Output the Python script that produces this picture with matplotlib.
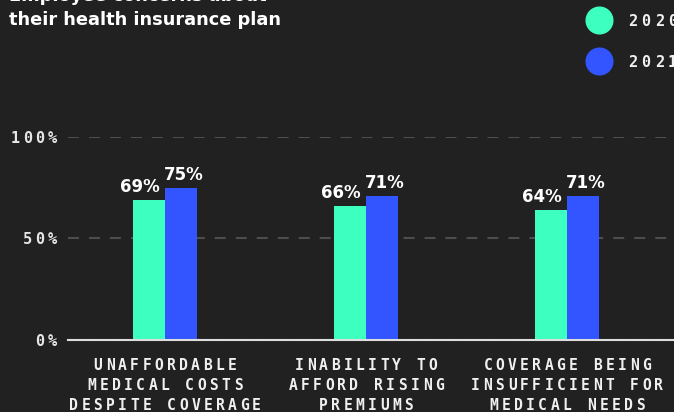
import matplotlib.pyplot as plt
import numpy as np

plt.rcParams['lines.scale_dashes'] = False

# data
categories = ["UNAFFORDABLE\nMEDICAL COSTS\nDESPITE COVERAGE",
              "INABILITY TO\nAFFORD RISING\nPREMIUMS",
              "COVERAGE BEING\nINSUFFICIENT FOR\nMEDICAL NEEDS"]
values_2020 = [69, 66, 64]
values_2021 = [75, 71, 71]
years = ["2020", "2021"]
y_ticks = [0, 50, 100]
tick_labels = ["0%", "50%", "100%"]

BG = "#212121"
GREEN = "#3dffc0"
BLUE = "#3355ff"
TEXT = "#f0f0f0"
DPI = 100
MONO = "DejaVu Sans Mono"
SANS = "DejaVu Sans"


def spaced(ax, x, y, text, transform, ha="center", dx=0, dy=0, size=10.5, pitch=12.2, color=TEXT):
    # monospace text with extra letter spacing, drawn one char at a time
    glyph = 0.602 * size * DPI / 72
    width = (len(text) - 1) * pitch + glyph
    start = {"center": -width / 2, "right": -width, "left": 0}[ha]
    for i, ch in enumerate(text):
        if ch == " ":
            continue
        cx = start + i * pitch + glyph / 2
        ax.annotate(ch, (x, y), xycoords=transform, xytext=(dx + cx, dy),
                    textcoords="offset pixels", ha="center", va="baseline",
                    fontsize=size, family=MONO, fontweight="bold", color=color)


fig = plt.figure(figsize=(6.74, 4.12), dpi=DPI, facecolor=BG)
ax = fig.add_axes([68 / 674, 72 / 412, 606 / 674, 203.3 / 412])
ax.set_facecolor(BG)

x = np.arange(len(categories))
w = 0.159
bars1 = ax.bar(x - w / 2, values_2020, w, color=GREEN)
bars2 = ax.bar(x + w / 2, values_2021, w, color=BLUE)

ax.set_ylim(0, 100)
ax.set_xlim(-0.4826, 2.532)

for s in ["top", "right", "left"]:
    ax.spines[s].set_visible(False)
ax.spines["bottom"].set_color("#dddddd")
ax.spines["bottom"].set_linewidth(1.5)
ax.set_xticks([])
ax.set_yticks(y_ticks)
ax.tick_params(axis="y", length=0, labelleft=False)
ax.grid(axis="y", color="#4d4d4d", linewidth=1.5, linestyle=(0, (7.9, 7.2)))
ax.set_axisbelow(True)

# y tick labels
for v, lab in zip(y_ticks, tick_labels):
    spaced(ax, 0, v, lab, ax.get_yaxis_transform(), ha="right", dx=-11, dy=-6,
           size=11, pitch=12.5, color="#e6e6e6")

# category labels
for xi, cat in zip(x, categories):
    for j, line in enumerate(cat.split("\n")):
        spaced(ax, xi, 0, line, ax.get_xaxis_transform(), ha="center", dy=-30.5 - 19.5 * j)

# value labels
for b, v in zip(bars1, values_2020):
    ax.annotate(f"{v}%", (b.get_x() + b.get_width(), v), xytext=(-5, 8),
                textcoords="offset pixels", ha="right", va="baseline",
                fontsize=12, fontweight="bold", family=SANS, color="white")
for b, v in zip(bars2, values_2021):
    ax.annotate(f"{v}%", (b.get_x(), v), xytext=(-1, 8),
                textcoords="offset pixels", ha="left", va="baseline",
                fontsize=12, fontweight="bold", family=SANS, color="white")

# legend
for i, (yr, col) in enumerate(zip(years, [GREEN, BLUE])):
    yc = 1 - (20 + 41 * i) / 412
    ax.plot([599.3 / 674], [yc], "o", ms=19.2, color=col, transform=fig.transFigure, clip_on=False)
    spaced(ax, 628 / 674, yc, yr, fig.transFigure, ha="left", dy=-6, size=11, pitch=13.3)

# title
fig.text(9 / 674, 1 - 1 / 412, "Employee concerns about", fontsize=12.8, fontweight="bold",
         family=SANS, color="white", va="baseline")
fig.text(9 / 674, 1 - 25 / 412, "their health insurance plan", fontsize=12.8, fontweight="bold",
         family=SANS, color="white", va="baseline")

fig.savefig("out.png", dpi=DPI, facecolor=BG)
